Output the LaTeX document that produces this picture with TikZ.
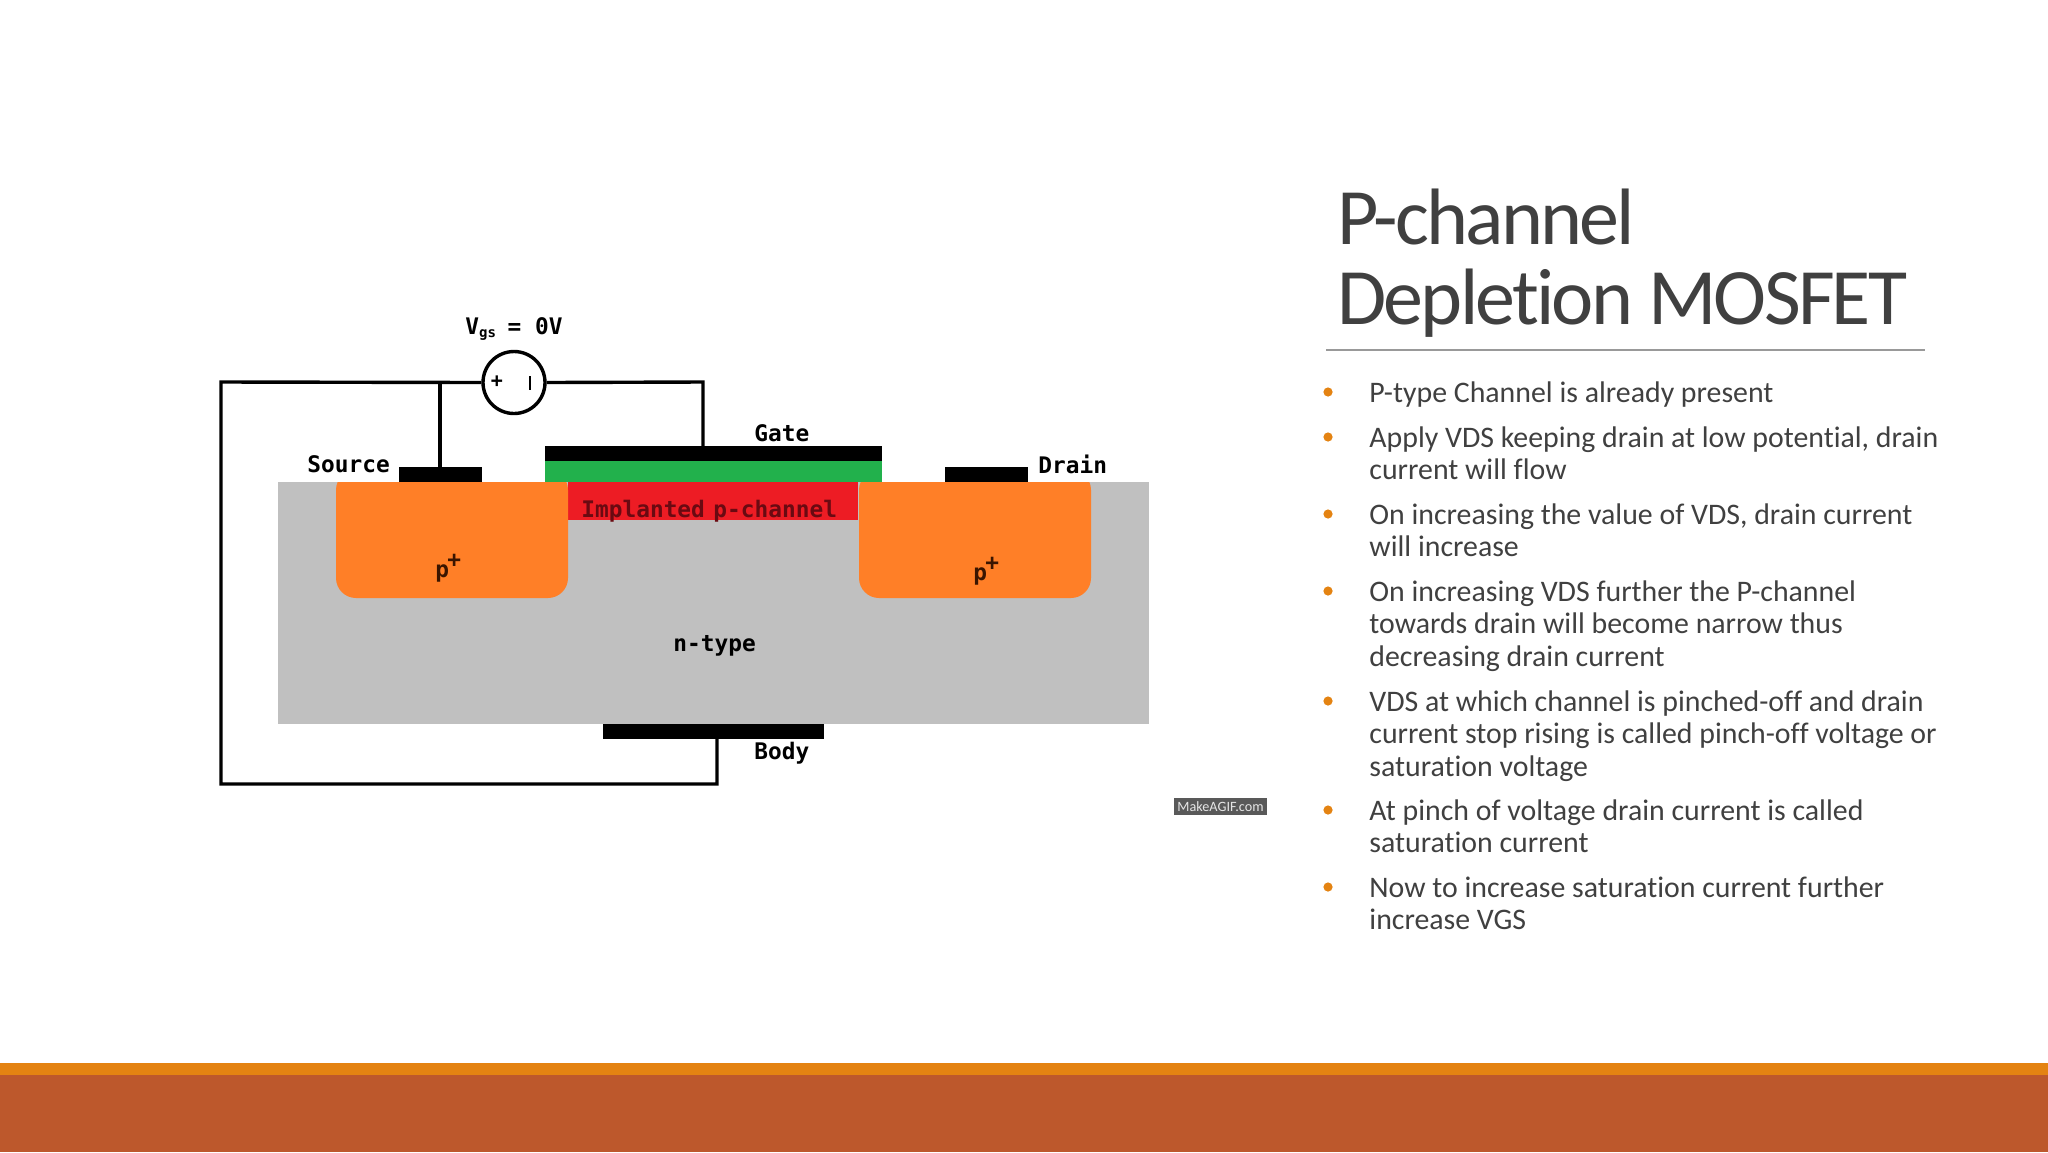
\documentclass[tikz,border=0pt]{standalone}
\usepackage{fontspec}
\setmainfont{Carlito}[Ligatures=NoCommon]
\newfontfamily\monob{DejaVu Sans Mono}
\newfontfamily\titlefont{Carlito}[Ligatures=NoCommon,LetterSpace=-3.5]
\definecolor{txtgray}{HTML}{404040}
\definecolor{accent}{HTML}{E48312}
\definecolor{footer}{HTML}{BD582C}
\definecolor{subgray}{HTML}{C0C0C0}
\definecolor{porange}{HTML}{FF7F27}
\definecolor{oxgreen}{HTML}{22B14C}
\definecolor{chred}{HTML}{ED1C24}
\definecolor{chtext}{HTML}{6A0A12}
\definecolor{ptext}{HTML}{3A1500}
\tikzset{
  x=0.5pt,y=-0.5pt,
  wire/.style={draw=black,line width=1.7pt},
  region/.style={anchor=north west,inner sep=0pt,outer sep=0pt},
  metal/.style={region,fill=black,minimum height=7.5pt},
  lab/.style={anchor=base west,inner sep=0pt,font=\monob\bfseries\fontsize{11.4}{13}\selectfont,text=black},
  bodytxt/.style={anchor=base west,inner sep=0pt,text=txtgray,font=\fontsize{14.92}{16.15}\selectfont},
  titletxt/.style={anchor=base west,inner sep=0pt,text=txtgray,font=\titlefont\fontsize{40}{40}\selectfont},
  bulletdot/.style={circle,fill=accent,inner sep=0pt,minimum size=4.6pt},
}
\newcommand{\bitem}[3]{%
  \node[bulletdot] (b#1) at (1328,#2-9) {};
  \node[bodytxt] (t#1) at (1369,#2+1.5) {\parbox[t]{400pt}{#3}};
}
\begin{document}
\begin{tikzpicture}
\useasboundingbox (0,0) rectangle (2048,1152);
\fill[white] (0,0) rectangle (2048,1152);
% footer
\fill[accent] (0,1063) rectangle (2048,1076);
\fill[footer] (0,1075) rectangle (2048,1152);
% device
\node[region,fill=subgray,minimum width=435.5pt,minimum height=121pt] (sub) at (278,482) {};
\node[region,fill=chred,minimum width=145pt,minimum height=19pt] (chan) at (568,482) {};
\fill[porange,rounded corners=10pt] (336,598) -- (568,598) -- (568,470) -- (336,470) -- cycle;
\fill[porange,rounded corners=10pt] (859,598) -- (1091,598) -- (1091,470) -- (859,470) -- cycle;
\fill[white] (336,466) rectangle (568,482);
\fill[white] (859,466) rectangle (1091,482);
\node[region,fill=oxgreen,minimum width=168.5pt,minimum height=10.5pt] (oxide) at (545,461) {};
\node[metal,minimum width=168.5pt] (gatem) at (545,446) {};
\node[metal,minimum width=41.5pt] (srcm) at (399,467) {};
\node[metal,minimum width=41.5pt] (drnm) at (945,467) {};
\node[metal,minimum width=110.5pt] (bodym) at (603,724) {};
% circuit
\node[circle,draw=black,line width=1.7pt,minimum size=31pt,inner sep=0pt] (vgs) at (514,382.5) {};
\coordinate (tl) at (221,382);
\coordinate (bl) at (221,784);
\coordinate (br) at (717,784);
\coordinate (bodyc) at (717,739);
\coordinate (tg) at (703,382);
\coordinate (gatec) at (703,446);
\coordinate (srcj) at (440,382);
\coordinate (srcc) at (440,467);
\draw[wire,line join=miter] (vgs.west) -- (tl) -- (bl) -- (br) -- (bodyc);
\draw[wire] (srcj) -- (srcc);
\draw[wire,line join=miter] (vgs.east) -- (tg) -- (gatec);
\node[inner sep=0pt,font=\monob\bfseries\fontsize{10}{10}\selectfont] (plus) at (497,381.5) {+};
\coordinate (minusa) at (530,376);
\coordinate (minusb) at (530,390);
\draw[line width=1.1pt] (minusa) -- (minusb);
% labels
\node[lab] (vlab) at (465,334) {V\raisebox{-1.5pt}{\fontsize{7}{9}\selectfont gs}\hspace{-1pt} = 0V};
\node[lab] (source) at (307,472) {Source};
\node[lab] (gate) at (754,441) {Gate};
\node[lab] (drain) at (1038,473) {Drain};
\node[lab] (body) at (754,759) {Body};
\node[lab] (ntype) at (673,651) {n-type};
\node[lab,text=chtext] (impl) at (581,517) {Implanted\hspace{-2.6pt} p-channel};
\node[lab,text=ptext] (p1) at (435,577) {p};
\node[lab,text=ptext] (p1s) at (447,567) {+};
\node[lab,text=ptext] (p2) at (973,580) {p};
\node[lab,text=ptext] (p2s) at (985,570) {+};
% watermark
\node[region,fill=black!65,minimum width=46.5pt,minimum height=8.5pt] (agifbox) at (1174,798) {};
\node[inner sep=0pt,text=white!90!black,font=\fontsize{7.1}{8}\selectfont] (agif) at (agifbox.center) {MakeAGIF.com};
% title
\node[titletxt] (title1) at (1337,244) {P-channel};
\node[titletxt] (title2) at (1337,324) {Depletion MOSFET};
\coordinate (rulea) at (1326,350);
\coordinate (ruleb) at (1925,350);
\draw[line width=0.6pt,draw=black!40] (rulea) -- (ruleb);
% bullets
\bitem{1}{401}{P-type Channel is already present}
\bitem{2}{446}{Apply VDS keeping drain at low potential, drain\\current will flow}
\bitem{3}{523}{On increasing the value of VDS, drain current\\will increase}
\bitem{4}{600}{On increasing VDS further the P-channel\\towards drain will become narrow thus\\decreasing drain current}
\bitem{5}{710}{VDS at which channel is pinched-off and drain\\current stop rising is called pinch-off voltage or\\saturation voltage}
\bitem{6}{819}{At pinch of voltage drain current is called\\saturation current}
\bitem{7}{896}{Now to increase saturation current further\\increase VGS}
\end{tikzpicture}
\end{document}
